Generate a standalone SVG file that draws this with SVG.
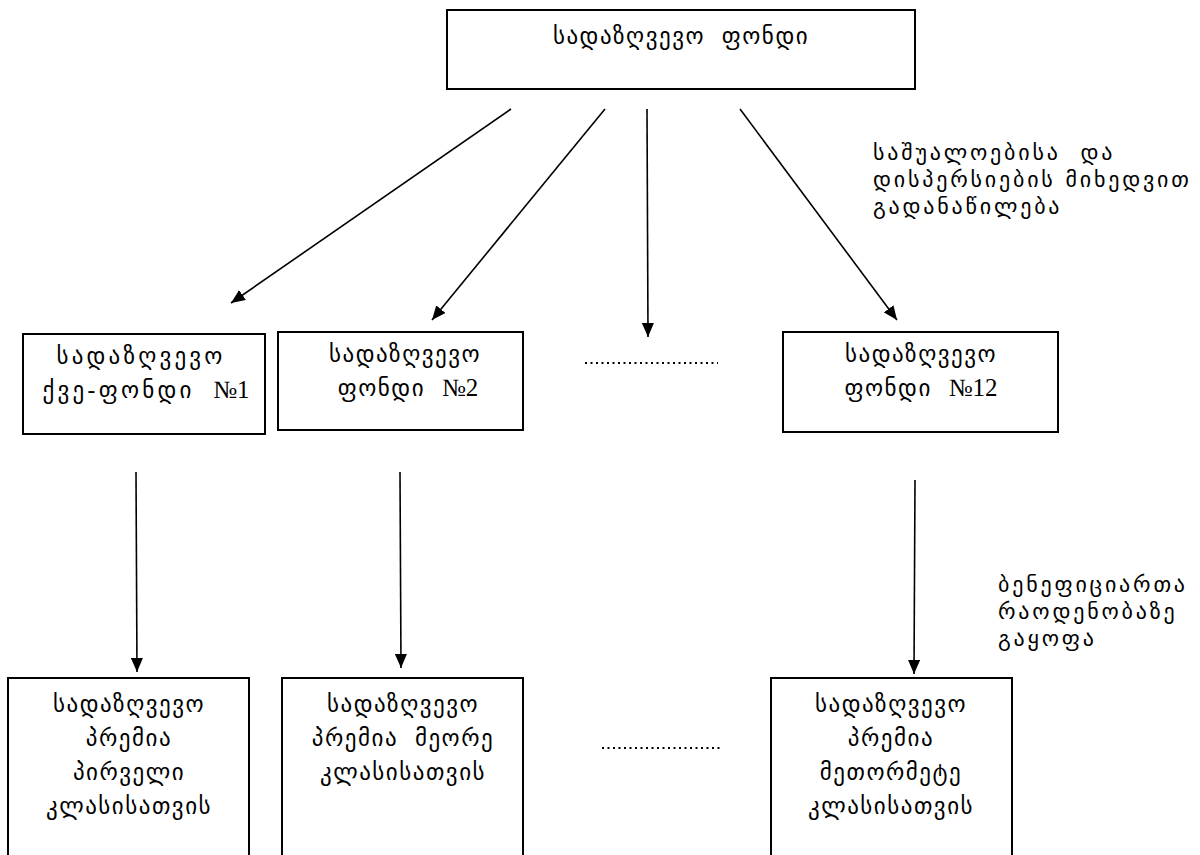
<svg xmlns="http://www.w3.org/2000/svg" width="1200" height="855" viewBox="0 0 1200 855">
<style>
.box{fill:#fff;stroke:#000;stroke-width:2}
.t{font-family:"DejaVu Sans","DejaVu Serif","Liberation Serif",serif;font-size:23px;letter-spacing:1.5px;word-spacing:8px;fill:#000;text-anchor:middle}
.w{letter-spacing:3.2px}
.a{font-family:"DejaVu Sans","DejaVu Serif","Liberation Serif",serif;font-size:22px;letter-spacing:2.8px;fill:#000}
.n{font-family:"Liberation Serif",serif;font-size:25px;letter-spacing:0}
.c{stroke:#000;stroke-width:1.6;fill:none;marker-end:url(#ah)}
.dot{stroke:#000;stroke-width:2;stroke-dasharray:2 3.5;fill:none}
</style>
<defs>
<marker id="ah" viewBox="0 0 14 12" refX="14" refY="6" markerWidth="14" markerHeight="12" markerUnits="userSpaceOnUse" orient="auto">
<path d="M0,0 L14,6 L0,12 z" fill="#000"/>
</marker>
</defs>
<rect width="1200" height="855" fill="#fff"/>
<g id="top">
<rect class="box" x="447" y="10" width="468" height="79"/>
<text class="t" x="681" y="44">სადაზღვევო ფონდი</text>
</g>
<g id="sub1">
<rect class="box" x="23" y="334" width="242" height="100"/>
<text class="t w" x="141" y="364">სადაზღვევო</text>
<text class="t w" x="146" y="398">ქვე-ფონდი <tspan class="n">№1</tspan></text>
</g>
<g id="sub2">
<rect class="box" x="278" y="332" width="245" height="98"/>
<text class="t" x="405" y="362">სადაზღვევო</text>
<text class="t" x="408" y="396">ფონდი <tspan class="n">№2</tspan></text>
</g>
<g id="sub12">
<rect class="box" x="783" y="332" width="275" height="100"/>
<text class="t" x="921" y="362">სადაზღვევო</text>
<text class="t" x="921" y="396">ფონდი <tspan class="n">№12</tspan></text>
</g>
<g id="prem1">
<rect class="box" x="8" y="678" width="241" height="200"/>
<text class="t" x="129" y="712">სადაზღვევო</text>
<text class="t" x="129" y="746">პრემია</text>
<text class="t" x="129" y="780">პირველი</text>
<text class="t" x="129" y="814">კლასისათვის</text>
</g>
<g id="prem2">
<rect class="box" x="282" y="678" width="241" height="200"/>
<text class="t" x="403" y="712">სადაზღვევო</text>
<text class="t" x="403" y="746">პრემია მეორე</text>
<text class="t" x="403" y="780">კლასისათვის</text>
</g>
<g id="prem12">
<rect class="box" x="771" y="678" width="241" height="200"/>
<text class="t" x="891" y="712">სადაზღვევო</text>
<text class="t" x="891" y="746">პრემია</text>
<text class="t" x="891" y="780">მეთორმეტე</text>
<text class="t" x="891" y="814">კლასისათვის</text>
</g>
<g id="note1">
<text class="a" x="873" y="160" word-spacing="10">საშუალოებისა და</text>
<text class="a" x="873" y="187">დისპერსიების მიხედვით</text>
<text class="a" x="873" y="214">გადანაწილება</text>
</g>
<g id="note2">
<text class="a" x="998" y="592">ბენეფიციართა</text>
<text class="a" x="998" y="619">რაოდენობაზე</text>
<text class="a" x="998" y="646">გაყოფა</text>
</g>
<g id="connectors">
<line class="c" x1="511" y1="109" x2="231" y2="303"/>
<line class="c" x1="605" y1="109" x2="432" y2="320"/>
<line class="c" x1="647" y1="109" x2="648" y2="337"/>
<line class="c" x1="740" y1="109" x2="897" y2="320"/>
<line class="c" x1="136" y1="472" x2="137" y2="672"/>
<line class="c" x1="400" y1="472" x2="401" y2="668"/>
<line class="c" x1="915" y1="480" x2="914" y2="674"/>
<line class="dot" x1="585" y1="363" x2="718" y2="363"/>
<line class="dot" x1="602" y1="748" x2="722" y2="748"/>
</g>
</svg>
